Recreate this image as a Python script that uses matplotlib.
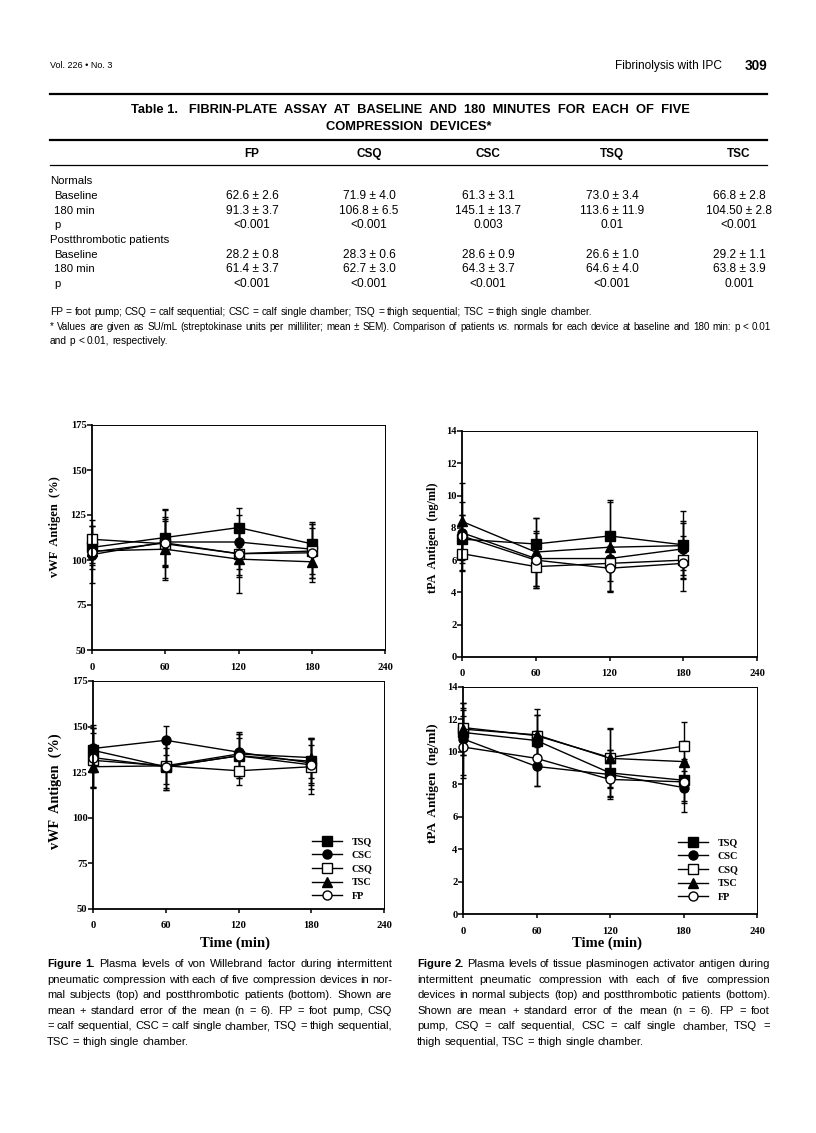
import matplotlib
matplotlib.use('Agg')
import matplotlib.pyplot as plt

SANS = 'Liberation Sans'
SERIF = 'Liberation Serif'

# table 1
colunas = ['FP', 'CSQ', 'CSC', 'TSQ', 'TSC']
norm_base = ['62.6 ± 2.6', '71.9 ± 4.0', '61.3 ± 3.1', '73.0 ± 3.4', '66.8 ± 2.8']
norm_180 = ['91.3 ± 3.7', '106.8 ± 6.5', '145.1 ± 13.7', '113.6 ± 11.9', '104.50 ± 2.8']
norm_p = ['<0.001', '<0.001', '0.003', '0.01', '<0.001']
pt_base = ['28.2 ± 0.8', '28.3 ± 0.6', '28.6 ± 0.9', '26.6 ± 1.0', '29.2 ± 1.1']
pt_180 = ['61.4 ± 3.7', '62.7 ± 3.0', '64.3 ± 3.7', '64.6 ± 4.0', '63.8 ± 3.9']
pt_p = ['<0.001', '<0.001', '<0.001', '<0.001', '0.001']

# figures 1 and 2: order TSQ, CSC, CSQ, TSC, FP
tempo = [0, 60, 120, 180]
aparelhos = ['TSQ', 'CSC', 'CSQ', 'TSC', 'FP']

vwf_normais = [[107, 112.5, 118, 109],
               [103, 110, 110, 106],
               [111.5, 109, 103.5, 105],
               [105, 106, 100.5, 99],
               [104.5, 109.5, 103.5, 104]]
vwf_normais_sem = [[12, 16, 11, 12],
                   [16, 14, 15, 14],
                   [11, 19, 13, 15],
                   [8, 17, 19, 11],
                   [6, 12, 12, 14]]

tpa_normais = [[7.3, 7.0, 7.5, 6.95],
               [7.7, 6.1, 6.1, 6.7],
               [6.4, 5.6, 5.8, 6.0],
               [8.4, 6.5, 6.8, 6.9],
               [7.5, 6.0, 5.5, 5.8]]
tpa_normais_sem = [[1.5, 1.6, 2.2, 2.1],
                   [1.1, 1.7, 1.4, 1.6],
                   [1.1, 1.3, 1.7, 1.1],
                   [2.4, 2.1, 2.8, 1.5],
                   [2.1, 1.7, 1.4, 1.7]]

vwf_pacientes = [[137, 128, 134, 131],
                 [138, 142.5, 136, 130],
                 [131.5, 128.5, 125.8, 128],
                 [128, 128.5, 135, 133],
                 [133, 128, 134, 129]]
vwf_pacientes_sem = [[12, 13, 12, 12],
                     [13, 8, 11, 14],
                     [15, 12, 8, 15],
                     [11, 10, 9, 11],
                     [16, 13, 12, 11]]

tpa_pacientes = [[11.2, 10.7, 8.7, 8.25],
                 [10.8, 9.1, 8.6, 7.8],
                 [11.5, 11.0, 9.65, 10.35],
                 [11.4, 11.05, 9.6, 9.4],
                 [10.3, 9.6, 8.3, 8.15]]
tpa_pacientes_sem = [[1.4, 1.6, 1.4, 1.3],
                     [2.2, 1.2, 1.5, 1.5],
                     [1.2, 1.3, 1.8, 1.5],
                     [1.6, 1.6, 1.8, 1.3],
                     [1.9, 1.7, 1.1, 1.3]]

marcadores = [('s', 'black'), ('o', 'black'), ('s', 'white'), ('^', 'black'), ('o', 'white')]

W, H = 816, 1133
fig = plt.figure(figsize=(W / 100, H / 100), dpi=100)
pg = fig.add_axes([0, 0, 1, 1])
pg.set_xlim(0, W)
pg.set_ylim(H, 0)
pg.axis('off')
renderer = fig.canvas.get_renderer()


def linha_texto(palavras, x0, x1, y, tam, justificar=True):
    # y = meio da linha; escreve na baseline para as palavras ficarem alinhadas
    yb = y + 0.36 * tam * 100 / 72
    textos = []
    for palavra, props in palavras:
        kw = dict(family=SANS, fontsize=tam, va='baseline', ha='left')
        kw.update(props)
        textos.append(pg.text(0, yb, palavra, **kw))
    larguras = [t.get_window_extent(renderer).width for t in textos]
    if justificar and len(textos) > 1:
        espaco = (x1 - x0 - sum(larguras)) / (len(textos) - 1)
    else:
        espaco = 0.278 * tam * 100 / 72
    x = x0
    for t, w in zip(textos, larguras):
        t.set_x(x)
        x += w + espaco


def palavras(frase, **props):
    return [(p, props) for p in frase.split()]


# header
pg.text(50, 66, 'Vol. 226 • No. 3', family=SANS, fontsize=6.5, va='center')
pg.text(722, 66, 'Fibrinolysis with IPC', family=SANS, fontsize=8.6, va='center', ha='right')
pg.text(767, 66, '309', family=SANS, fontsize=9.8, weight='bold', va='center', ha='right')

# table
pg.plot([50, 767], [94, 94], color='black', lw=1.6)
pg.plot([50, 767], [140, 140], color='black', lw=1.6)
pg.plot([50, 767], [165, 165], color='black', lw=0.9)
pg.text(410, 110, 'Table 1.   FIBRIN-PLATE  ASSAY  AT  BASELINE  AND  180  MINUTES  FOR  EACH  OF  FIVE',
        family=SANS, fontsize=9.3, weight='bold', ha='center', va='center')
pg.text(409, 127, 'COMPRESSION  DEVICES*', family=SANS, fontsize=9.3, weight='bold', ha='center', va='center')

col_x = [252, 369, 488, 612, 739]
for cx, c in zip(col_x, colunas):
    pg.text(cx, 154, c, family=SANS, fontsize=8.5, weight='bold', ha='center', va='center')

linhas_y = [196, 211, 225, 255, 269, 284]
valores = [norm_base, norm_180, norm_p, pt_base, pt_180, pt_p]
rotulos = ['Baseline', '180 min', 'p', 'Baseline', '180 min', 'p']
pg.text(50, 181, 'Normals', family=SANS, fontsize=8.2, va='center')
pg.text(50, 240, 'Postthrombotic patients', family=SANS, fontsize=8.2, va='center')
for y, rot, vals in zip(linhas_y, rotulos, valores):
    pg.text(54, y, rot, family=SANS, fontsize=8.2, va='center')
    for cx, v in zip(col_x, vals):
        pg.text(cx, y, v, family=SANS, fontsize=8.6, ha='center', va='center')

linha_texto(palavras('FP = foot pump; CSQ = calf sequential; CSC = calf single chamber; '
                     'TSQ = thigh sequential; TSC = thigh single chamber.'),
            50, 771, 311, 7.3, justificar=False)
nota = (palavras('* Values are given as SU/mL (streptokinase units per milliliter; mean ± SEM). '
                 'Comparison of patients') + [('vs.', {'style': 'italic'})]
        + palavras('normals for each device at baseline and 180 min: p < 0.01'))
linha_texto(nota, 50, 771, 326, 7.1)
linha_texto(palavras('and p < 0.01, respectively.'), 50, 771, 340, 7.3, justificar=False)


def painel(caixa, medias, sems, ylim, yticks, titulo, pos_titulo, legenda=None):
    x0, y0, x1, y1 = caixa
    ax = fig.add_axes([x0 / W, 1 - y1 / H, (x1 - x0) / W, (y1 - y0) / H])
    conts = []
    for m, s, (mk, fc) in zip(medias, sems, marcadores):
        c = ax.errorbar(tempo, m, yerr=s, fmt='-', marker=mk, mfc=fc, mec='black', color='black',
                        lw=1.0, ms=6.5, mew=1.0, capsize=2.4, elinewidth=1.0, capthick=1.0,
                        clip_on=False)
        conts.append(c)
    ax.set_xlim(0, 240)
    ax.set_ylim(*ylim)
    ax.set_xticks([0, 60, 120, 180, 240])
    ax.set_yticks(yticks)
    for lado in ['left', 'bottom']:
        ax.spines[lado].set_linewidth(1.3)
    for lado in ['top', 'right']:
        ax.spines[lado].set_linewidth(0.7)
    ax.tick_params(axis='x', direction='out', length=3, width=1.1, pad=6)
    ax.tick_params(axis='y', direction='out', length=3.5, width=1.1, pad=0.5)
    for lab in ax.get_xticklabels() + ax.get_yticklabels():
        lab.set_fontfamily(SERIF)
        lab.set_fontweight('bold')
        lab.set_fontsize(7.6)
    pg.text(pos_titulo[0], pos_titulo[1], titulo, family=SERIF, weight='bold', fontsize=10.5,
            ha='center', va='center')
    if legenda is not None:
        ax.legend([c[0] for c in conts], aparelhos, loc='upper left', bbox_to_anchor=legenda,
                  bbox_transform=pg.transData, frameon=False, borderpad=0, borderaxespad=0,
                  handlelength=3.0, handletextpad=0.9, labelspacing=0.45, numpoints=1,
                  prop=dict(family=SERIF, weight='bold', size=7.3))
    return ax


painel((92, 425, 385, 650), vwf_normais, vwf_normais_sem, (50, 175), range(50, 176, 25),
       'Normals', (243, 452))
painel((462, 431, 757, 657), tpa_normais, tpa_normais_sem, (0, 14), range(0, 15, 2),
       'Normals', (609, 452))
painel((93, 681, 384, 909), vwf_pacientes, vwf_pacientes_sem, (50, 175), range(50, 176, 25),
       'Post-Thrombotic Patients', (235, 702), legenda=(312, 837))
painel((463, 687, 757, 914), tpa_pacientes, tpa_pacientes_sem, (0, 14), range(0, 15, 2),
       'Post-Thrombotic Patients', (607, 702), legenda=(678, 838))

pg.text(55, 527, 'vWF  Antigen  (%)', family=SERIF, weight='bold', fontsize=9, rotation=90,
        ha='center', va='center')
pg.text(433, 538, 'tPA  Antigen  (ng/ml)', family=SERIF, weight='bold', fontsize=8.8, rotation=90,
        ha='center', va='center')
pg.text(55, 791, 'vWF  Antigen  (%)', family=SERIF, weight='bold', fontsize=10.3, rotation=90,
        ha='center', va='center')
pg.text(433, 783, 'tPA  Antigen  (ng/ml)', family=SERIF, weight='bold', fontsize=9.5, rotation=90,
        ha='center', va='center')
pg.text(235, 943, 'Time (min)', family=SERIF, weight='bold', fontsize=10.5, ha='center', va='center')
pg.text(607, 943, 'Time (min)', family=SERIF, weight='bold', fontsize=10.5, ha='center', va='center')

# captions
leg1 = [
    [('Figure', {'weight': 'bold'}), ('1.', {'weight': 'bold'})]
    + palavras('Plasma levels of von Willebrand factor during intermittent'),
    palavras('pneumatic compression with each of five compression devices in nor-'),
    palavras('mal subjects (top) and postthrombotic patients (bottom). Shown are'),
    palavras('mean + standard error of the mean (n = 6). FP = foot pump, CSQ'),
    palavras('= calf sequential, CSC = calf single chamber, TSQ = thigh sequential,'),
    palavras('TSC = thigh single chamber.'),
]
leg2 = [
    [('Figure', {'weight': 'bold'}), ('2.', {'weight': 'bold'})]
    + palavras('Plasma levels of tissue plasminogen activator antigen during'),
    palavras('intermittent pneumatic compression with each of five compression'),
    palavras('devices in normal subjects (top) and postthrombotic patients (bottom).'),
    palavras('Shown are mean + standard error of the mean (n = 6). FP = foot'),
    palavras('pump, CSQ = calf sequential, CSC = calf single chamber, TSQ ='),
    palavras('thigh sequential, TSC = thigh single chamber.'),
]
for i, (l1, l2) in enumerate(zip(leg1, leg2)):
    y = 963 + i * 15.6
    ultima = i == len(leg1) - 1
    linha_texto(l1, 47, 392, y, 8.1, justificar=not ultima)
    linha_texto(l2, 417, 770, y, 8.1, justificar=not ultima)

plt.savefig('out.png', dpi=100)
